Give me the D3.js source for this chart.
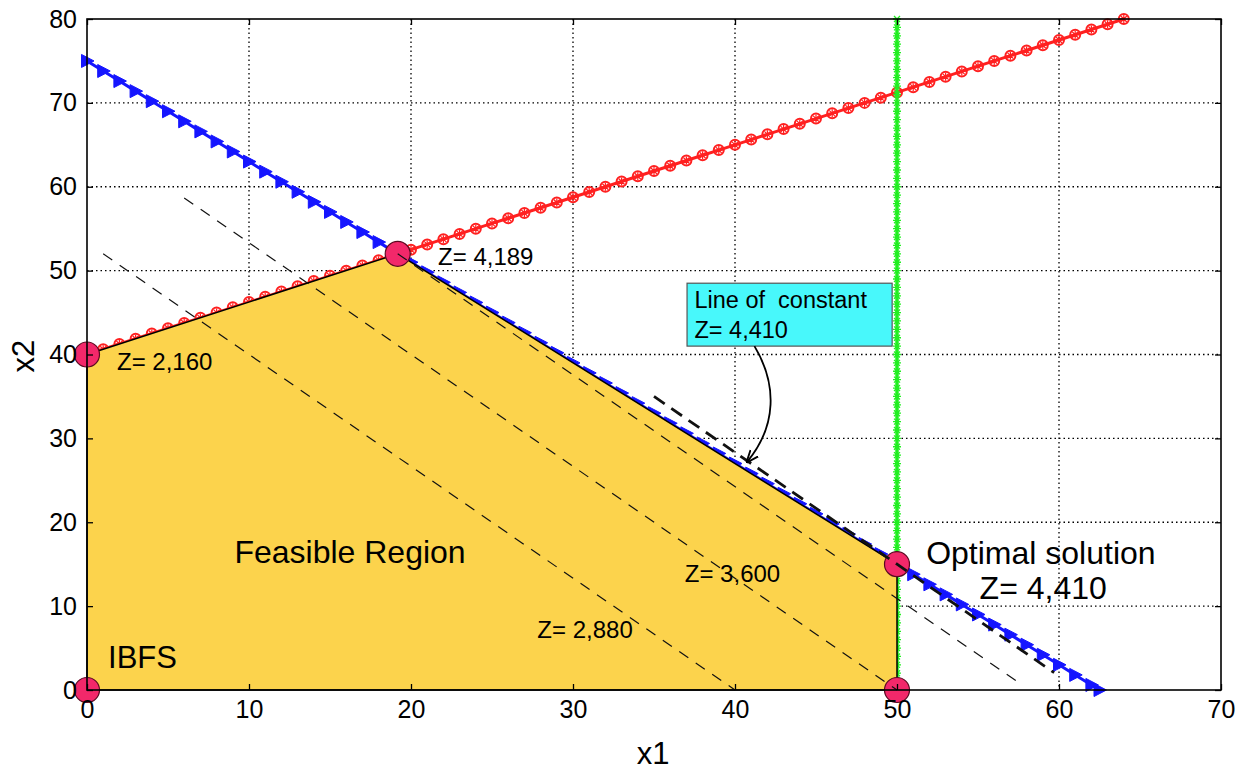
<!DOCTYPE html>
<html>
<head>
<meta charset="utf-8">
<script src="https://cdn.jsdelivr.net/npm/d3@7"></script>
<style>
body { margin: 0; background: #fff; }
text { font-family: "Liberation Sans", Arial, Helvetica, sans-serif; fill: #000; }
</style>
</head>
<body>
<div id="chart"></div>
<script>
// axis ticks
var xTicks = [0, 10, 20, 30, 40, 50, 60, 70];
var yTicks = [0, 10, 20, 30, 40, 50, 60, 70, 80];

// constraint lines, a*x1 + b*x2 = c, drawn from x1/x2 start to end
var redLine   = {a: -0.625, b: 1, c: 40, from: 0,  to: 64};
var blueLine  = {a: 1.2,    b: 1, c: 75, from: 0,  to: 62.5};
var greenLine = {x: 50, from: 0, to: 80};

// objective Z = 72 x1 + 54 x2
var zCoef = [72, 54];

// corner points of the feasible region
var feasible = [[0, 0], [0, 40], [19.18, 52], [50, 15], [50, 0]];
var cornerZ  = ['', '2,160', '4,189', '4,410', ''];

// iso-profit lines: value, x1 start, x1 end
var zValues = [2880, 3600, 4189, 4410];
var zFrom   = [1, 6, 19.18, 35];
var zTo     = [40, 50, 57.7, 59.7];

function LpChart(config) {
	var me = this;
	me.initConfig(config);
}

LpChart.prototype.initConfig = function(config) {
	this.width  = 1250;
	this.height = 774;
	this.margin = {top: 19, right: 29, bottom: 84, left: 87};
	for (var k in config) { if (config.hasOwnProperty(k)) this[k] = config[k]; }

	this.viewWidth  = this.width  - this.margin.left - this.margin.right;
	this.viewHeight = this.height - this.margin.top  - this.margin.bottom;

	this.svg = d3.select('#' + this.parentId).append('svg')
		.attr('width', this.width)
		.attr('height', this.height);
	this.vis = this.svg.append('g')
		.attr('transform', 'translate(' + this.margin.left + ',' + this.margin.top + ')');

	this.x = d3.scaleLinear().domain([0, 70]).range([0, this.viewWidth]);
	this.y = d3.scaleLinear().domain([0, 80]).range([this.viewHeight, 0]);

	this.draw();
}

LpChart.prototype.draw = function() {
	this.drawGrid();
	this.drawConstraints();
	this.drawRegion();
	this.drawCorners();
	this.drawZLines();
	this.drawAxes();
	this.drawLabels();
}

LpChart.prototype.drawGrid = function() {
	var me = this;
	var grid = me.vis.append('g').attr('class', 'grid')
		.attr('stroke', '#000').attr('stroke-width', 1.3).attr('stroke-dasharray', '1.5,3');
	grid.selectAll('line.v').data(xTicks.slice(1, -1)).enter().append('line')
		.attr('x1', me.x).attr('x2', me.x)
		.attr('y1', 0).attr('y2', me.viewHeight);
	grid.selectAll('line.h').data(yTicks.slice(1, -1)).enter().append('line')
		.attr('y1', me.y).attr('y2', me.y)
		.attr('x1', 0).attr('x2', me.viewWidth);
}

LpChart.prototype.linePoints = function(l) {
	// x2 = (c - a*x1)/b, one marker per unit of x1
	var xs = d3.range(l.from, l.to, 1).concat([l.to]);
	return xs.map(function(v) { return [v, (l.c - l.a * v) / l.b]; });
}

LpChart.prototype.drawConstraints = function() {
	var me = this;
	var line = d3.line()
		.x(function(d) { return me.x(d[0]); })
		.y(function(d) { return me.y(d[1]); });

	// red: circle + star markers
	var rp = me.linePoints(redLine);
	var red = me.vis.append('g').attr('class', 'red');
	red.append('path').attr('d', line(rp))
		.attr('fill', 'none').attr('stroke', '#ff2020').attr('stroke-width', 3);
	var rm = red.selectAll('g').data(rp).enter().append('g')
		.attr('transform', function(d) { return 'translate(' + me.x(d[0]) + ',' + me.y(d[1]) + ')'; })
		.attr('stroke', '#ff2020').attr('stroke-width', 2).attr('fill', 'none');
	rm.append('circle').attr('r', 5);
	rm.append('path').attr('d', 'M-4,0H4M0,-4V4M-3,-3L3,3M-3,3L3,-3').attr('stroke-width', 1.2);

	// blue: right pointing triangles
	var bp = me.linePoints(blueLine);
	var blue = me.vis.append('g').attr('class', 'blue');
	blue.append('path').attr('d', line(bp))
		.attr('fill', 'none').attr('stroke', '#1515ff').attr('stroke-width', 3);
	blue.selectAll('path.m').data(bp).enter().append('path')
		.attr('class', 'm')
		.attr('d', 'M-5.5,-6.5L7,0L-5.5,6.5Z')
		.attr('fill', '#1515ff')
		.attr('stroke', '#1515ff')
		.attr('stroke-width', 1)
		.attr('transform', function(d) { return 'translate(' + me.x(d[0]) + ',' + me.y(d[1]) + ')'; });

	// green vertical x1 = 50
	var gp = d3.range(greenLine.from, greenLine.to + 0.5, 1);
	var green = me.vis.append('g').attr('class', 'green')
		.attr('stroke', '#22ee22');
	green.append('line')
		.attr('x1', me.x(greenLine.x)).attr('x2', me.x(greenLine.x))
		.attr('y1', me.y(greenLine.from)).attr('y2', me.y(greenLine.to))
		.attr('stroke-width', 3.5);
	green.selectAll('path').data(gp).enter().append('path')
		.attr('d', 'M-4,0H4M-3,-3L3,3M-3,3L3,-3')
		.attr('stroke-width', 1.3)
		.attr('transform', function(d) { return 'translate(' + me.x(greenLine.x) + ',' + me.y(d) + ')'; });
}

LpChart.prototype.drawRegion = function() {
	var me = this;
	me.vis.append('path')
		.attr('d', d3.line()
			.x(function(d) { return me.x(d[0]); })
			.y(function(d) { return me.y(d[1]); })(feasible) + 'Z')
		.attr('fill', '#fcd34c')
		.attr('stroke', '#000')
		.attr('stroke-width', 1.5)
		.attr('stroke-linejoin', 'round');
}

LpChart.prototype.drawCorners = function() {
	var me = this;
	me.vis.append('g').attr('class', 'corners')
		.selectAll('circle').data(feasible).enter().append('circle')
		.attr('cx', function(d) { return me.x(d[0]); })
		.attr('cy', function(d) { return me.y(d[1]); })
		.attr('r', 12.5)
		.attr('fill', '#f2286a')
		.attr('stroke', '#5a0a20')
		.attr('stroke-width', 1.2);
}

LpChart.prototype.drawZLines = function() {
	var me = this;
	var zl = me.vis.append('g').attr('class', 'zlines').attr('fill', 'none');
	zValues.forEach(function(z, i) {
		var p = [zFrom[i], zTo[i]].map(function(v) { return [v, (z - zCoef[0] * v) / zCoef[1]]; });
		var bold = (z === 4410);
		zl.append('line')
			.attr('x1', me.x(p[0][0])).attr('y1', me.y(p[0][1]))
			.attr('x2', me.x(p[1][0])).attr('y2', me.y(p[1][1]))
			.attr('stroke', '#111')
			.attr('stroke-width', bold ? 2.8 : 1.2)
			.attr('stroke-dasharray', bold ? '13,8' : '11,9');
	});
}

LpChart.prototype.drawAxes = function() {
	var me = this;
	var xAxis = d3.axisBottom(me.x).tickValues(xTicks).tickSize(-6).tickPadding(14);
	var xAxisTop = d3.axisTop(me.x).tickValues(xTicks).tickSize(-6).tickFormat('');
	var yAxis = d3.axisLeft(me.y).tickValues(yTicks).tickSize(-6).tickPadding(10);
	var yAxisRight = d3.axisRight(me.y).tickValues(yTicks).tickSize(-6).tickFormat('');

	var gx = me.vis.append('g').attr('transform', 'translate(0,' + me.viewHeight + ')').call(xAxis);
	me.vis.append('g').call(xAxisTop);
	var gy = me.vis.append('g').call(yAxis);
	me.vis.append('g').attr('transform', 'translate(' + me.viewWidth + ',0)').call(yAxisRight);

	me.vis.selectAll('.domain').remove();
	me.vis.selectAll('.tick line').attr('stroke', '#000').attr('stroke-width', 1.3);
	gx.selectAll('text').attr('font-size', 25).attr('dy', '0.55em');
	gy.selectAll('text').attr('font-size', 25);

	me.vis.append('rect')
		.attr('width', me.viewWidth).attr('height', me.viewHeight)
		.attr('fill', 'none').attr('stroke', '#000').attr('stroke-width', 1.6);

	me.svg.append('text')
		.attr('x', me.margin.left + me.viewWidth / 2 - 1)
		.attr('y', 764)
		.attr('text-anchor', 'middle')
		.attr('font-size', 31)
		.text('x1');
	me.svg.append('text')
		.attr('transform', 'translate(34,356) rotate(-90)')
		.attr('text-anchor', 'middle')
		.attr('font-size', 31)
		.text('x2');
}

LpChart.prototype.drawLabels = function() {
	var me = this;
	var lab = me.vis.append('g').attr('class', 'labels');
	function put(x1, x2, txt, size) {
		return lab.append('text')
			.attr('x', me.x(x1)).attr('y', me.y(x2))
			.attr('font-size', size)
			.attr('xml:space', 'preserve')
			.text(txt);
	}

	// corner values
	put(1.85, 38.15, 'Z= ' + cornerZ[1], 24);
	put(21.67, 50.67, 'Z= ' + cornerZ[2], 24);
	// iso-profit values
	put(36.9, 12.9, 'Z= 3,600', 24);
	put(27.8, 6.2, 'Z= 2,880', 24);

	put(9.1, 15.1, 'Feasible Region', 32);
	put(1.3, 2.6, 'IBFS', 31);
	put(51.8, 15.0, 'Optimal solution', 32);
	put(55.1, 10.85, 'Z= ' + cornerZ[3], 32);

	// callout box
	lab.append('rect')
		.attr('x', me.x(37.04)).attr('y', me.y(48.5))
		.attr('width', me.x(49.7) - me.x(37.04))
		.attr('height', me.y(41.0) - me.y(48.5))
		.attr('fill', '#48f8fb').attr('stroke', '#555').attr('stroke-width', 1.2);
	put(37.5, 45.5, 'Line of  constant', 23.5);
	put(37.5, 42.0, 'Z= 4,410', 23.5);

	me.svg.append('defs').append('marker')
		.attr('id', 'arr').attr('viewBox', '0 0 10 10')
		.attr('refX', 9).attr('refY', 5)
		.attr('markerWidth', 7).attr('markerHeight', 7)
		.attr('orient', 'auto')
		.append('path').attr('d', 'M0,1L10,5L0,9').attr('fill', 'none').attr('stroke', '#000').attr('stroke-width', 1.5);

	var p = d3.path();
	p.moveTo(me.x(41.2), me.y(41.0));
	p.bezierCurveTo(me.x(42.6), me.y(36.5), me.x(42.6), me.y(31.5), me.x(40.75), me.y(27.2));
	lab.append('path').attr('d', p.toString())
		.attr('fill', 'none').attr('stroke', '#000').attr('stroke-width', 1.8)
		.attr('marker-end', 'url(#arr)');
}

new LpChart({parentId: 'chart'});
</script>
</body>
</html>
